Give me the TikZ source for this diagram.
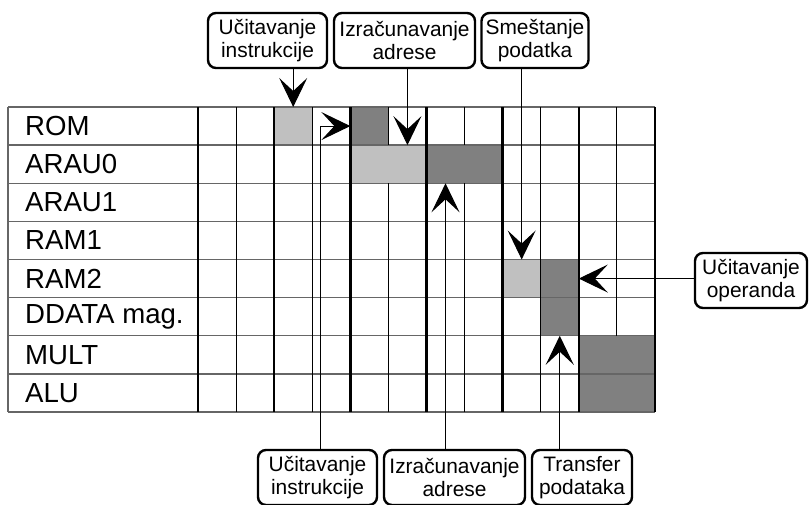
\documentclass[tikz,border=0pt]{standalone}
\usepackage{fontspec}
\setmainfont{Liberation Sans}
\usetikzlibrary{arrows.meta}
\definecolor{cellLight}{HTML}{C0C0C0}
\definecolor{cellDark}{HTML}{808080}
\definecolor{rulegray}{HTML}{666666}
% shaded cell block: column, row, span, colour
\newcommand\gcell[4]{\fill[#4] ({\xa+#1*\cw},{\ya+#2*\rh}) rectangle ++({#3*\cw},\rh);}
\begin{document}
\begin{tikzpicture}[x=1pt,y=-1pt,
  callout/.style={draw, line width=2.4pt, rounded corners=8pt, fill=white,
    minimum height=55pt, inner sep=0pt, align=center,
    font=\fontsize{20.9}{23}\selectfont},
  rowlabel/.style={anchor=west, inner sep=0pt, font=\fontsize{27.6}{30}\selectfont},
  conn/.style={line width=1pt, -{Stealth[length=29pt,width=28pt,inset=13pt]}},
  thinrule/.style={line width=0.9pt},
  thickrule/.style={line width=2.6pt},
  hrule/.style={line width=1.3pt, draw=rulegray},
]
\useasboundingbox (0,0) rectangle (809,504);
\def\xa{198}\def\cw{38.08}\def\ya{107}\def\rh{38.125}

% occupied time slots
\gcell{2}{0}{1}{cellLight}
\gcell{4}{0}{1}{cellDark}
\gcell{4}{1}{2}{cellLight}
\gcell{6}{1}{2}{cellDark}
\gcell{8}{4}{1}{cellLight}
\gcell{9}{4}{1}{cellDark}
\gcell{9}{5}{1}{cellDark}
\gcell{10}{6}{2}{cellDark}
\gcell{10}{7}{2}{cellDark}

% grid: thin column lines stop at the merged slots
\foreach \r in {0,...,8}
  \draw[hrule] (8,{\ya+\r*\rh}) -- (655,{\ya+\r*\rh});
\draw[hrule] (8,\ya) -- (8,{\ya+8*\rh});
\foreach \c/\ra/\rb in {1/0/8, 3/0/8, 5/0/1, 5/2/8, 7/0/1, 7/2/8, 9/0/8, 11/0/6}
  \draw[thinrule] ({\xa+\c*\cw},{\ya+\ra*\rh}) -- ({\xa+\c*\cw},{\ya+\rb*\rh});
\foreach \c in {0,2,4,6,8,10,12}
  \draw[thickrule] ({\xa+\c*\cw},\ya) -- ({\xa+\c*\cw},{\ya+8*\rh});

% unit names
\node[rowlabel] (lrom)  at (25,{\ya+0.5*\rh}) {ROM};
\node[rowlabel] (laru0) at (25,{\ya+1.5*\rh}) {ARAU0};
\node[rowlabel] (laru1) at (25,{\ya+2.5*\rh}) {ARAU1};
\node[rowlabel] (lram1) at (25,{\ya+3.5*\rh}) {RAM1};
\node[rowlabel] (lram2) at (25,{\ya+4.5*\rh}) {RAM2};
\node[rowlabel] (lddat) at (25,{\ya+5.5*\rh}) {DDATA mag.};
\node[rowlabel] (lmult) at (25,{\ya+6.5*\rh}) {MULT};
\node[rowlabel] (lalu)  at (25,{\ya+7.5*\rh}) {ALU};

% phase callouts
\node[callout, minimum width=119pt] (top1) at (267.5,40.5) {Učitavanje\\instrukcije};
\node[callout, minimum width=141pt] (top2) at (404.5,40.5) {Izračunavanje\\adrese};
\node[callout, minimum width=107pt] (top3) at (535,40.5) {Smeštanje\\podatka};
\node[callout, minimum width=112pt] (rgt)  at (751,280.5) {Učitavanje\\operanda};
\node[callout, minimum width=119pt] (bot1) at (317.5,477.5) {Učitavanje\\instrukcije};
\node[callout, minimum width=141pt] (bot2) at (454.5,477.5) {Izračunavanje\\adrese};
\node[callout, minimum width=100pt] (bot3) at (582,477.5) {Transfer\\podataka};

% arrow targets
\coordinate (tA) at ({\xa+2.5*\cw},\ya);
\coordinate (tB) at ({\xa+5.5*\cw},{\ya+\rh});
\coordinate (tC) at ({\xa+8.5*\cw},{\ya+4*\rh});
\coordinate (tD) at ({\xa+10*\cw},{\ya+4.5*\rh});
\coordinate (tE) at ({\xa+4*\cw},{\ya+0.5*\rh});
\coordinate (bend) at (320,{\ya+0.5*\rh});
\coordinate (tF) at ({\xa+6.5*\cw},{\ya+2*\rh});
\coordinate (tG) at ({\xa+9.5*\cw},{\ya+6*\rh});

% connectors
\draw[conn] (top1.south -| tA) -- (tA);
\draw[conn] (top2.south -| tB) -- (tB);
\draw[conn] (top3.south -| tC) -- (tC);
\draw[conn] (rgt.west |- tD) -- (tD);
\draw[conn] (bot1.north -| bend) -- (bend) -- (tE);
\draw[conn] (bot2.north -| tF) -- (tF);
\draw[conn] (bot3.north -| tG) -- (tG);
\end{tikzpicture}
\end{document}
